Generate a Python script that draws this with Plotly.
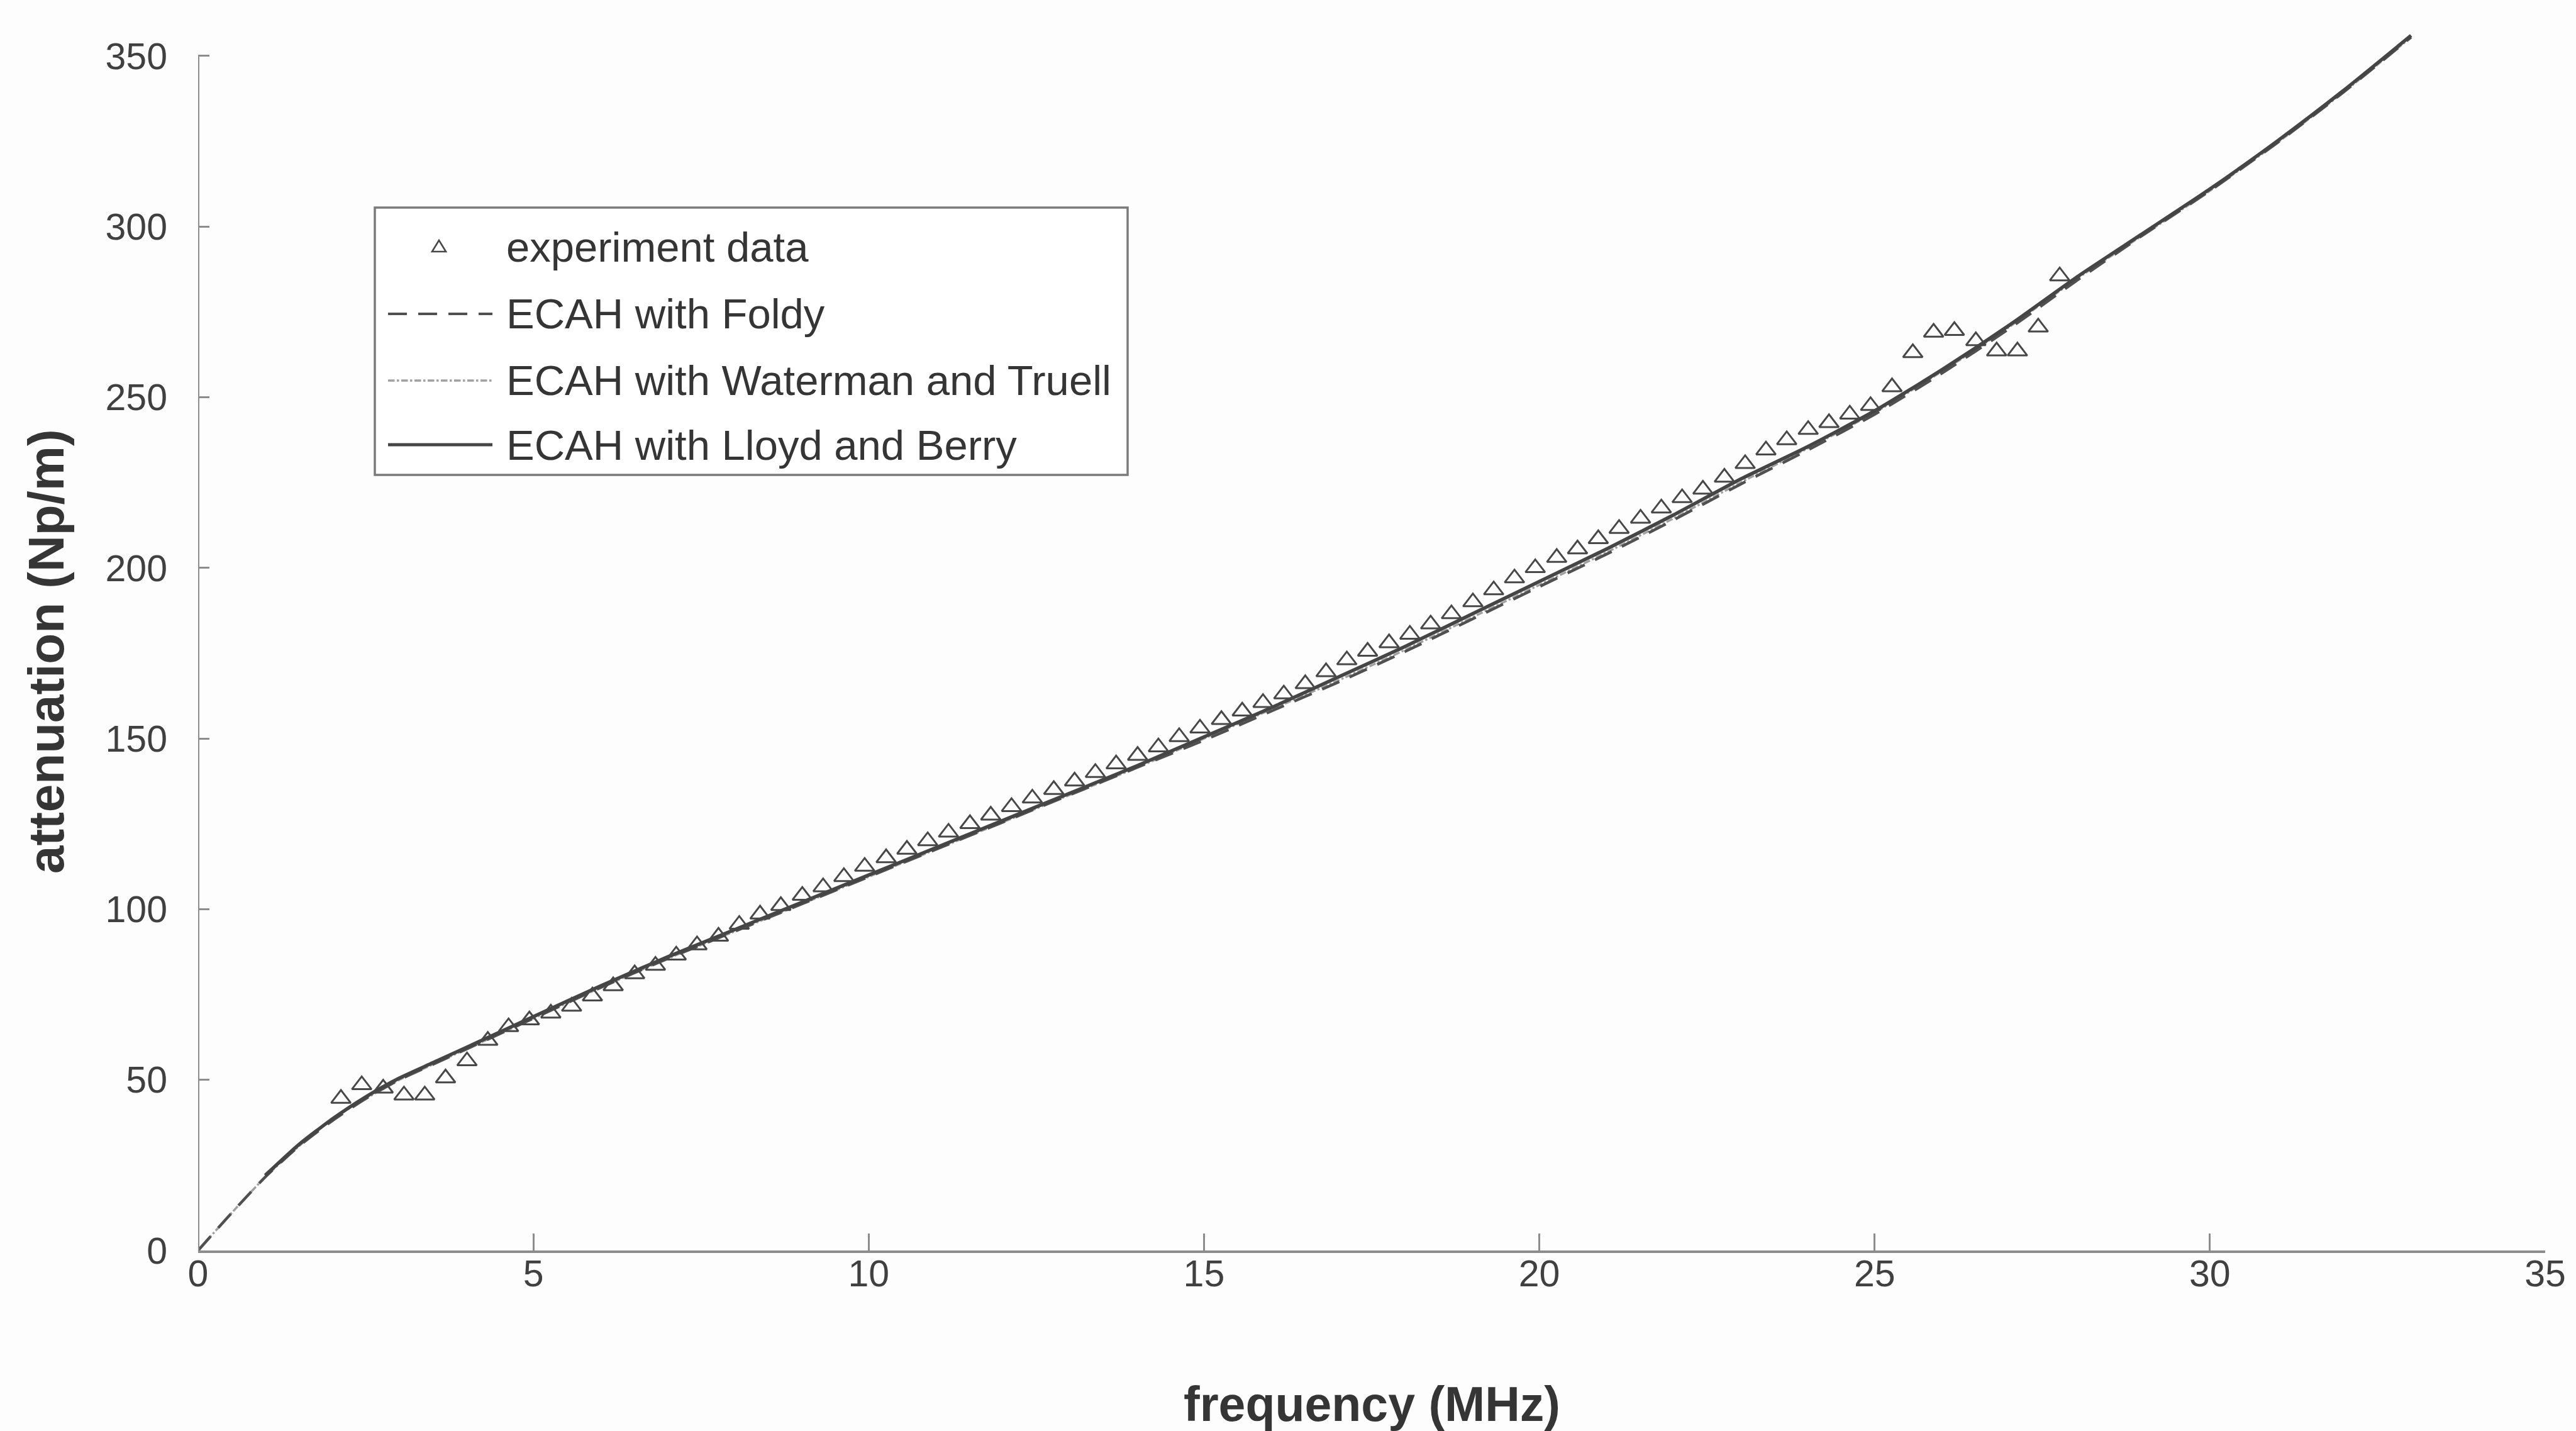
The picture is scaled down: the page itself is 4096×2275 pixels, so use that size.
import plotly.graph_objects as go

# ---- measured attenuation (Np/m) vs frequency (MHz) ----
exp_freq = [2.13, 2.44, 2.76, 3.07, 3.38, 3.69, 4.01, 4.32, 4.63, 4.94,
            5.26, 5.57, 5.88, 6.19, 6.51, 6.82, 7.13, 7.44, 7.76, 8.07,
            8.38, 8.69, 9.01, 9.32, 9.63, 9.94, 10.26, 10.57, 10.88, 11.19,
            11.51, 11.82, 12.13, 12.44, 12.76, 13.07, 13.38, 13.69, 14.01, 14.32,
            14.63, 14.94, 15.26, 15.57, 15.88, 16.19, 16.51, 16.82, 17.13, 17.44,
            17.76, 18.07, 18.38, 18.69, 19.01, 19.32, 19.63, 19.94, 20.26, 20.57,
            20.88, 21.19, 21.51, 21.82, 22.13, 22.44, 22.76, 23.07, 23.38, 23.69,
            24.01, 24.32, 24.63, 24.94, 25.26, 25.57, 25.88, 26.19, 26.51, 26.82,
            27.13, 27.44, 27.76]
exp_att = [44.5, 48.5, 47.5, 45.5, 45.5, 50.5, 55.5, 61.5, 65.5, 67.5,
           69.5, 71.5, 74.5, 77.5, 81.0, 83.5, 86.5, 89.5, 92.0, 95.5,
           98.5, 101.0, 104.0, 106.5, 109.5, 112.5, 115.0, 117.5, 120.0, 122.5,
           125.0, 127.5, 130.0, 132.5, 135.0, 137.5, 140.0, 142.5, 145.0, 147.5,
           150.5, 153.0, 155.5, 158.0, 160.5, 163.0, 166.0, 169.5, 173.0, 175.5,
           178.0, 180.5, 183.5, 186.5, 190.0, 193.5, 197.0, 200.0, 203.0, 205.5,
           208.5, 211.5, 214.5, 217.5, 220.5, 223.0, 226.5, 230.5, 234.5, 237.5,
           240.5, 242.5, 245.0, 247.5, 253.0, 263.0, 269.0, 269.5, 266.5, 263.5,
           263.5, 270.5, 285.5]

# ---- ECAH model predictions ----
foldy_freq = [0, 0.5, 1, 1.5, 2, 2.5, 3, 3.5, 4, 5, 6, 7, 8, 9, 10, 11, 12, 13, 14,
              15, 16, 17, 18, 19, 20, 21, 22, 23, 24, 25, 26, 27, 28, 29, 30, 31,
              32, 33]
foldy_att = [0, 11, 21.5, 30.5, 38, 44.5, 50, 54.5, 59, 68, 77, 85.5, 93.5, 101.5,
             109.5, 117.5, 125.5, 133.5, 141.5, 149.5, 158, 166.5, 175.5, 185,
             194.5, 204, 214, 224.5, 234.5, 245, 257, 270, 284, 297.5, 310.5,
             324.5, 339.5, 355.5]

wt_freq = [0, 0.5, 1, 1.5, 2, 2.5, 3, 3.5, 4, 5, 6, 7, 8, 9, 10, 11, 12, 13, 14,
           15, 16, 17, 18, 19, 20, 21, 22, 23, 24, 25, 26, 27, 28, 29, 30, 31,
           32, 33]
wt_att = [0, 11, 21.5, 30.5, 38.5, 44.5, 50, 54.5, 59, 68, 77, 85.5, 93.5, 101.5,
          109.5, 117.5, 125.5, 133.5, 141.5, 150, 158.5, 167, 176, 185.5, 195,
          204.5, 214.5, 225, 235, 245.5, 257.5, 270.5, 284.5, 297.5, 310.5,
          324.5, 339.5, 355.5]

lb_freq = [1, 1.5, 2, 2.5, 3, 3.5, 4, 5, 6, 7, 8, 9, 10, 11, 12, 13, 14, 15, 16,
           17, 18, 19, 20, 21, 22, 23, 24, 25, 26, 27, 28, 29, 30, 31, 32, 33]
lb_att = [22, 31, 38.5, 45, 50.5, 55, 59.5, 68.5, 77.5, 86, 94, 102, 110, 118, 126,
          134, 142, 150.5, 159, 168, 177, 186.5, 196, 205.5, 215.5, 226, 235.5,
          246, 258, 271, 285, 298, 311, 325, 340, 356]

x_ticks = [0, 5, 10, 15, 20, 25, 30, 35]
y_ticks = [0, 50, 100, 150, 200, 250, 300, 350]

legend_names = ["experiment data", "ECAH with Foldy",
                "ECAH with Waterman and Truell", "ECAH with Lloyd and Berry"]

FONT = "Liberation Sans, Arial, sans-serif"
INK = "#353535"
AXIS = "#8c8c8c"

fig = go.Figure()

fig.add_trace(go.Scatter(
    x=wt_freq, y=wt_att, mode="lines", name=legend_names[2],
    line=dict(color="#a0a0a0", width=3.5, dash="dashdot", shape="spline", smoothing=0.6),
    showlegend=False))
fig.add_trace(go.Scatter(
    x=foldy_freq, y=foldy_att, mode="lines", name=legend_names[1],
    line=dict(color="#505050", width=4.5, dash="30px,18px", shape="spline", smoothing=0.6),
    showlegend=False))
fig.add_trace(go.Scatter(
    x=lb_freq, y=lb_att, mode="lines", name=legend_names[3],
    line=dict(color="#454545", width=5.5, shape="spline", smoothing=0.6),
    showlegend=False))
fig.add_trace(go.Scatter(
    x=exp_freq, y=exp_att, mode="markers", name=legend_names[0],
    marker=dict(symbol="triangle-up-open", size=27, color="#484848",
                line=dict(width=3, color="#484848")),
    cliponaxis=False, showlegend=False))

# plot-area geometry (pixels)
L, R, T, B = 315, 4047, 51, 1988
W, H = R - L, B - T
Y_TOP = 357


def px(xp):
    return (xp - L) / W


def py(yp):
    return (B - yp) / H


shapes = []
# y axis line stops at the last tick
shapes.append(dict(type="line", xref="x", yref="y", x0=0, x1=0, y0=0, y1=350,
                   line=dict(color=AXIS, width=4)))

# legend box
shapes.append(dict(type="rect", xref="paper", yref="paper",
                   x0=px(596), x1=px(1793), y0=py(755), y1=py(330),
                   line=dict(color="#7a7a7a", width=3.5), fillcolor="rgba(255,255,255,0.9)",
                   layer="above"))
row_y = [392, 499, 605, 707]
sx0, sx1 = px(617), px(783)
# legend samples
shapes.append(dict(type="line", xref="paper", yref="paper", x0=sx0, x1=sx1,
                   y0=py(row_y[1]), y1=py(row_y[1]),
                   line=dict(color="#505050", width=4, dash="30px,18px"), layer="above"))
shapes.append(dict(type="line", xref="paper", yref="paper", x0=sx0, x1=sx1,
                   y0=py(row_y[2]), y1=py(row_y[2]),
                   line=dict(color="#a0a0a0", width=3.5, dash="dashdot"), layer="above"))
shapes.append(dict(type="line", xref="paper", yref="paper", x0=sx0, x1=sx1,
                   y0=py(row_y[3]), y1=py(row_y[3]),
                   line=dict(color="#454545", width=5), layer="above"))
# legend triangle
tx, ty = 698, row_y[0]
shapes.append(dict(type="path", xref="paper", yref="paper",
                   path=f"M {px(tx-11)} {py(ty+8)} L {px(tx+11)} {py(ty+8)} L {px(tx)} {py(ty-10)} Z",
                   line=dict(color="#484848", width=2.6), layer="above"))

annotations = []
for name, yy in zip(legend_names, row_y):
    annotations.append(dict(xref="paper", yref="paper", x=px(803), y=py(yy),
                            xanchor="left", yanchor="middle", text=name, showarrow=False,
                            font=dict(family=FONT, size=67, color=INK)))

annotations.append(dict(xref="paper", yref="paper", x=px(2181), y=py(2232),
                        xanchor="center", yanchor="middle",
                        text="<b>frequency (MHz)</b>", showarrow=False,
                        font=dict(family=FONT, size=77, color=INK)))
annotations.append(dict(xref="paper", yref="paper", x=px(73), y=py(1036),
                        xanchor="center", yanchor="middle", textangle=-90,
                        text="<b>attenuation (Np/m)</b>", showarrow=False,
                        font=dict(family=FONT, size=80, color=INK)))

fig.update_layout(
    width=4096, height=2275,
    margin=dict(l=L, r=4096 - R, t=T, b=2275 - B),
    paper_bgcolor="#fdfdfd", plot_bgcolor="rgba(0,0,0,0)",
    font=dict(family=FONT, color="#404040"),
    shapes=shapes, annotations=annotations,
    showlegend=False,
)
fig.update_xaxes(range=[0, 35], tickvals=x_ticks, ticktext=[str(v) for v in x_ticks],
                 showgrid=False, zeroline=False, showline=True, linecolor=AXIS, linewidth=4,
                 ticks="inside", ticklen=27, tickwidth=3, tickcolor=AXIS,
                 tickfont=dict(family=FONT, size=59, color="#404040"),
                 ticklabelstandoff=-18)
fig.update_yaxes(range=[0, Y_TOP], tickvals=y_ticks, ticktext=[str(v) for v in y_ticks],
                 showgrid=False, zeroline=False, showline=False,
                 ticks="inside", ticklen=18, tickwidth=3, tickcolor=AXIS,
                 tickfont=dict(family=FONT, size=59, color="#404040"),
                 ticklabelstandoff=48)

fig.write_html("out.html")
